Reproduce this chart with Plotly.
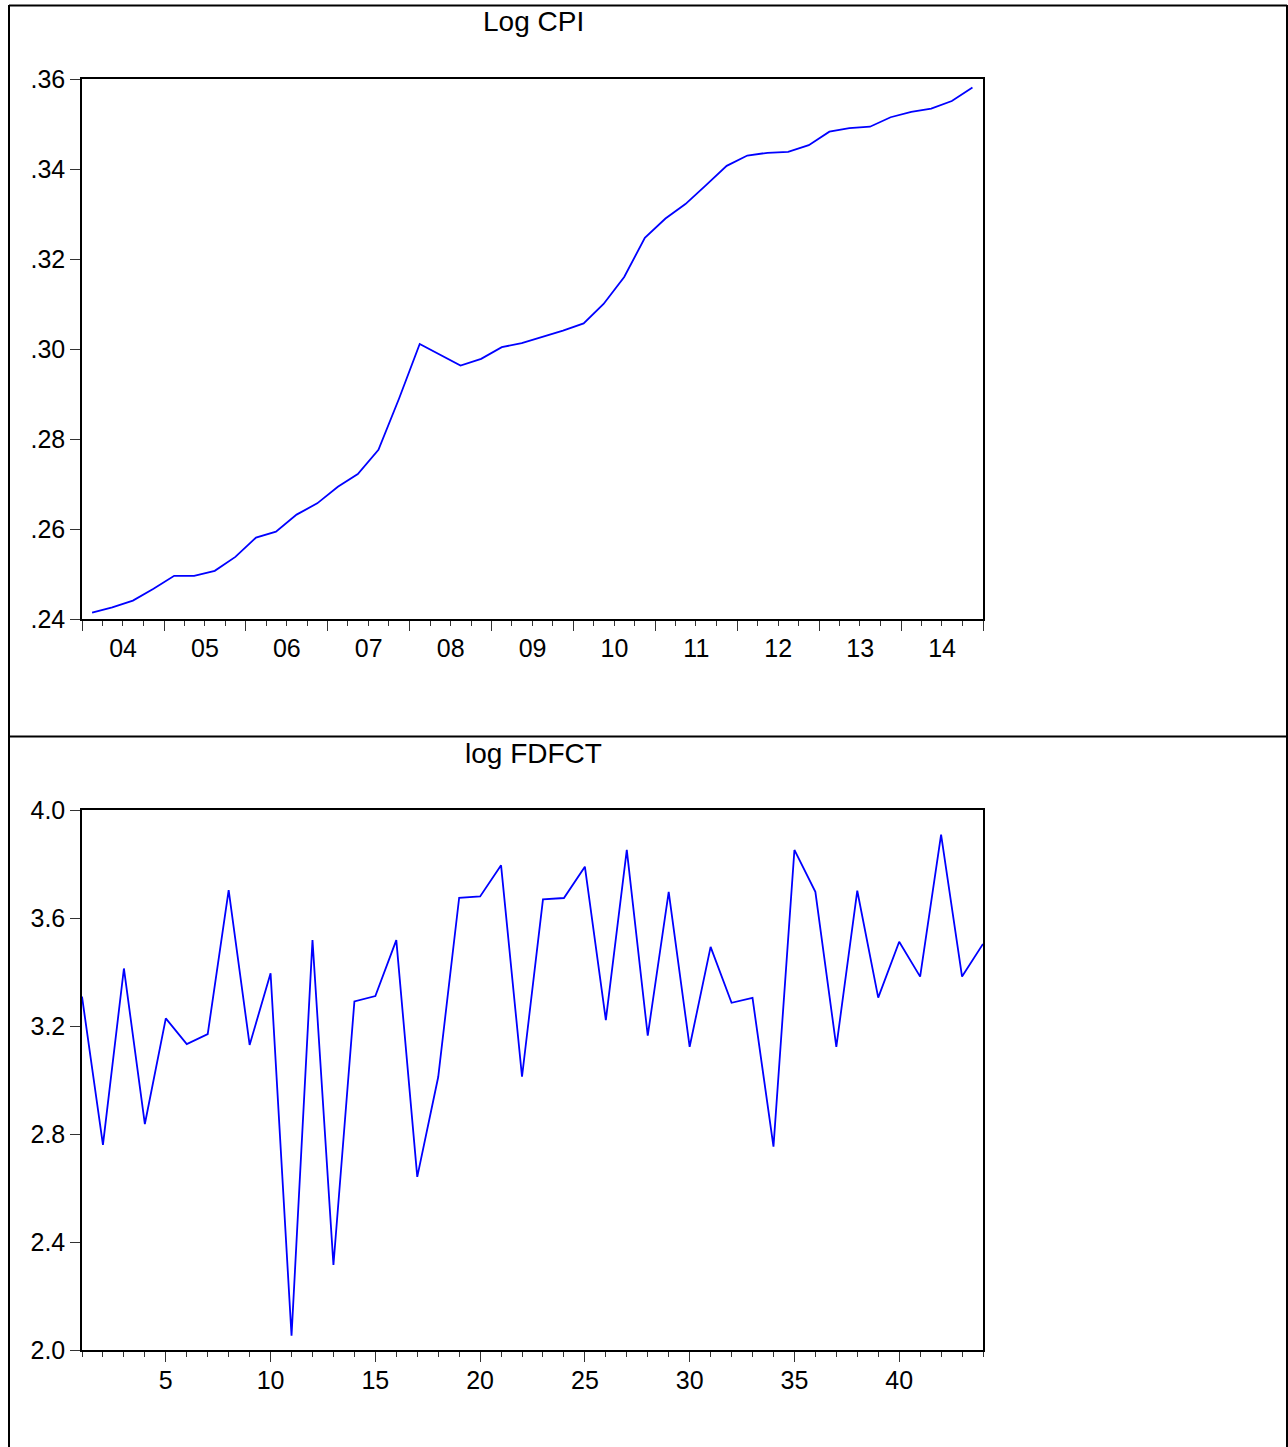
import plotly.graph_objects as go

# ---- data -------------------------------------------------------------
# Quarterly log CPI, 2004Q1 - 2014Q4
cpi_start_year = 2004
log_cpi = [
    0.2414, 0.2426, 0.2441, 0.2467, 0.2496, 0.2496, 0.2507, 0.2538,
    0.2581, 0.2594, 0.2632, 0.2657, 0.2694, 0.2722, 0.2776, 0.2890,
    0.3011, 0.2987, 0.2963, 0.2978, 0.3004, 0.3013, 0.3027, 0.3041,
    0.3057, 0.3100, 0.3160, 0.3247, 0.3290, 0.3322, 0.3364, 0.3407,
    0.3430, 0.3436, 0.3438, 0.3453, 0.3483, 0.3491, 0.3494, 0.3515,
    0.3527, 0.3534, 0.3551, 0.3581,
]

# log FDFCT, observations 1..44
log_fdfct = [
    3.309, 2.760, 3.413, 2.837, 3.228, 3.133, 3.170, 3.703, 3.130, 3.395,
    2.053, 3.518, 2.315, 3.291, 3.311, 3.518, 2.641, 3.011, 3.675, 3.680,
    3.795, 3.012, 3.669, 3.674, 3.790, 3.222, 3.852, 3.164, 3.697, 3.123,
    3.493, 3.286, 3.304, 2.753, 3.852, 3.697, 3.123, 3.701, 3.305, 3.512,
    3.383, 3.909, 3.383, 3.504,
]

cpi_yticks = [0.24, 0.26, 0.28, 0.30, 0.32, 0.34, 0.36]
cpi_yticktext = [".24", ".26", ".28", ".30", ".32", ".34", ".36"]
fdfct_yticks = [2.0, 2.4, 2.8, 3.2, 3.6, 4.0]
fdfct_xticks = [5, 10, 15, 20, 25, 30, 35, 40]

# quarter midpoints as dates
mid_month = {1: "02-15", 2: "05-15", 3: "08-15", 4: "11-15"}
cpi_dates = []
for i in range(len(log_cpi)):
    yr = cpi_start_year + i // 4
    q = i % 4 + 1
    cpi_dates.append(f"{yr}-{mid_month[q]}")
obs = list(range(1, len(log_fdfct) + 1))

# ---- layout geometry (pixels) -----------------------------------------
W, H = 1288, 1447
FONT = "Liberation Sans, Arial, Helvetica, sans-serif"
TICK_SIZE = 25
TITLE_SIZE = 28


def px_x(x):
    return x / W


def px_y(y):
    return 1 - y / H


plot_left, plot_right = 82, 983
top_y0, top_y1 = 79, 619
bot_y0, bot_y1 = 810, 1350

fig = go.Figure()
fig.add_trace(go.Scatter(x=cpi_dates, y=log_cpi, mode="lines",
                         line=dict(color="#0000ff", width=1.8),
                         xaxis="x", yaxis="y", showlegend=False))
fig.add_trace(go.Scatter(x=obs, y=log_fdfct, mode="lines",
                         line=dict(color="#0000ff", width=1.8),
                         xaxis="x2", yaxis="y2", showlegend=False))

axis_common = dict(showgrid=False, zeroline=False, showline=True,
                   linecolor="black", linewidth=1.5, mirror=True,
                   automargin=False,
                   ticks="outside", tickcolor="#333333", tickwidth=1,
                   tickfont=dict(family=FONT, size=TICK_SIZE, color="black"))

fig.update_layout(
    template="none",
    width=W, height=H, autosize=False,
    margin=dict(l=0, r=0, t=0, b=0, pad=0),
    paper_bgcolor="white", plot_bgcolor="white",
    xaxis=dict(**axis_common, type="date",
               domain=[px_x(plot_left), px_x(plot_right)],
               anchor="y",
               range=["2004-01-01", "2015-01-01"],
               tick0="2004-01-01", dtick="M12", tickformat="%y",
               ticklabelmode="period", ticklen=10, ticklabelstandoff=-4,
               minor=dict(dtick="M3", ticklen=5, tickcolor="#333333",
                          ticks="outside", showgrid=False)),
    yaxis=dict(**axis_common,
               domain=[px_y(top_y1), px_y(top_y0)],
               anchor="x",
               range=[0.24, 0.36],
               tickvals=cpi_yticks, ticktext=cpi_yticktext, ticklen=10),
    xaxis2=dict(**axis_common,
                domain=[px_x(plot_left), px_x(plot_right)],
                anchor="y2",
                range=[1, 44],
                tickvals=fdfct_xticks, ticklen=10, ticklabelstandoff=-3,
                minor=dict(dtick=1, tick0=1, ticklen=5, tickcolor="#333333",
                           ticks="outside", showgrid=False)),
    yaxis2=dict(**axis_common,
                domain=[px_y(bot_y1), px_y(bot_y0)],
                anchor="x2",
                range=[2.0, 4.0],
                tickvals=fdfct_yticks, tickformat=".1f", ticklen=10),
)

# panel titles
fig.add_annotation(text="Log CPI", x=px_x(533), y=px_y(22),
                   xref="paper", yref="paper", showarrow=False,
                   xanchor="center", yanchor="middle",
                   font=dict(family=FONT, size=TITLE_SIZE, color="black"))
fig.add_annotation(text="log FDFCT", x=px_x(533), y=px_y(753),
                   xref="paper", yref="paper", showarrow=False,
                   xanchor="center", yanchor="middle",
                   font=dict(family=FONT, size=TITLE_SIZE, color="black"))

# outer panel frames
frame = dict(color="black", width=2)
fig.add_shape(type="line", xref="paper", yref="paper",
              x0=px_x(9), x1=px_x(9), y0=0, y1=px_y(5), line=frame)
fig.add_shape(type="line", xref="paper", yref="paper",
              x0=px_x(1287), x1=px_x(1287), y0=0, y1=px_y(5), line=frame)
fig.add_shape(type="line", xref="paper", yref="paper",
              x0=px_x(9), x1=px_x(1287), y0=px_y(5.5), y1=px_y(5.5), line=frame)
fig.add_shape(type="line", xref="paper", yref="paper",
              x0=px_x(9), x1=px_x(1287), y0=px_y(736.5), y1=px_y(736.5), line=frame)

fig.write_html("out.html")
